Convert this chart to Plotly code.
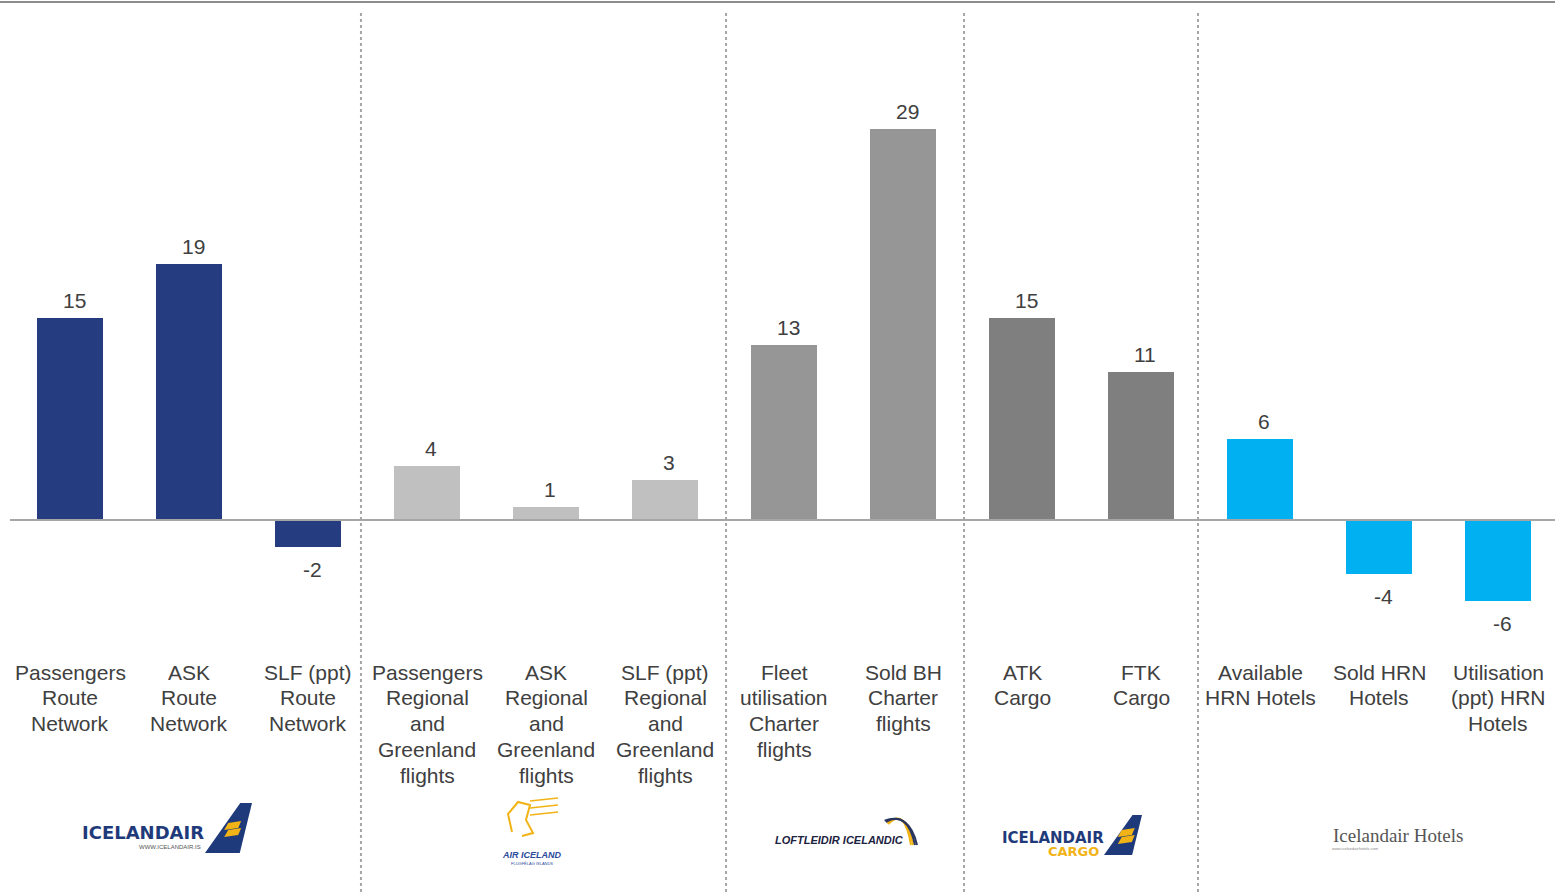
import plotly.graph_objects as go

# Traffic and capacity change by business unit (%, ppt where noted)
categories = [
    ["Passengers", "Route", "Network"], ["ASK", "Route", "Network"], ["SLF (ppt)", "Route", "Network"],
    ["Passengers", "Regional", "and", "Greenland", "flights"], ["ASK", "Regional", "and", "Greenland", "flights"],
    ["SLF (ppt)", "Regional", "and", "Greenland", "flights"],
    ["Fleet", "utilisation", "Charter", "flights"], ["Sold BH", "Charter", "flights"],
    ["ATK", "Cargo"], ["FTK", "Cargo"],
    ["Available", "HRN Hotels"], ["Sold HRN", "Hotels"], ["Utilisation", "(ppt) HRN", "Hotels"],
]
values = [15, 19, -2, 4, 1, 3, 13, 29, 15, 11, 6, -4, -6]
bar_colors = ["#253C80"] * 3 + ["#C0C0C0"] * 3 + ["#969696"] * 2 + ["#7F7F7F"] * 2 + ["#00B0F0"] * 3
separators = [2.445, 5.513, 7.513, 9.479]

W, H = 1555, 892
TXT = "#404040"
FONT = "Liberation Sans, Arial, sans-serif"
PX_PER_UNIT = 13.5
ZERO_PX = 520

x = list(range(len(values)))
fig = go.Figure(go.Bar(x=x, y=values, marker=dict(color=bar_colors, line=dict(width=0)),
                       width=0.555, hoverinfo="skip"))


def px_x(p):
    return p / W


def px_y(p):
    return (H - p) / H


def note(px, py, text, size, color, family=FONT):
    return dict(x=px_x(px), y=px_y(py), xref="paper", yref="paper", text=text, showarrow=False,
                xanchor="center", yanchor="middle", font=dict(size=size, color=color, family=family))


ann = []
# value labels
for i, v in enumerate(values):
    pos = v >= 0
    ann.append(dict(x=i, y=v, xref="x", yref="y", text=str(v), showarrow=False,
                    xanchor="center", yanchor="bottom" if pos else "top",
                    yshift=4 if pos else -9, xshift=4,
                    font=dict(size=21, color=TXT, family=FONT)))
# category labels, one line at a time
for i, lines in enumerate(categories):
    for k, line in enumerate(lines):
        ann.append(dict(x=i, y=px_y(672 + k * 25.75), xref="x", yref="paper", text=line,
                        showarrow=False, xanchor="center", yanchor="middle",
                        font=dict(size=21, color=TXT, family=FONT)))

shapes = []
# frame line along the top
shapes.append(dict(type="line", xref="paper", yref="paper", x0=0, x1=1, y0=px_y(2), y1=px_y(2),
                   line=dict(color="#8C8C8C", width=2)))
# zero baseline
shapes.append(dict(type="line", xref="paper", yref="y", x0=px_x(10), x1=1, y0=0, y1=0,
                   line=dict(color="#A6A6A6", width=2), layer="above"))
# dotted separators between business units
for sx in separators:
    shapes.append(dict(type="line", xref="x", yref="paper", x0=sx, x1=sx,
                       y0=0, y1=px_y(10), line=dict(color="#A6A6A6", width=2, dash="dot")))

# --- logos ---
NAVY = "#1F3A7A"
GOLD = "#F2B316"


def poly(pts):
    return "M " + " L ".join(f"{px_x(a):.5f},{px_y(b):.5f}" for a, b in pts) + " Z"


def add_tail(xl, yt, xr, yb):
    pts = [(xl, yb), (xl + (xr - xl) * 0.75, yt), (xr, yt), (xl + (xr - xl) * 0.74, yb)]
    shapes.append(dict(type="path", xref="paper", yref="paper", path=poly(pts),
                       fillcolor=NAVY, line=dict(width=0)))
    cx = xl + (xr - xl) * 0.6
    cy = (yt + yb) / 2 + 3
    for dy in (-6, 1):
        q = [(cx - 9, cy + dy + 5), (cx - 5, cy + dy - 2), (cx + 8, cy + dy - 4), (cx + 5, cy + dy + 3)]
        shapes.append(dict(type="path", xref="paper", yref="paper", path=poly(q),
                           fillcolor=GOLD, line=dict(width=0)))


# Icelandair
ann.append(note(143, 832, "<b>ICELANDAIR</b>", 18, NAVY, "DejaVu Sans, sans-serif"))
ann.append(note(170, 847, "WWW.ICELANDAIR.IS", 6, "#555555"))
add_tail(205, 803, 252, 853)

# Air Iceland
shapes.append(dict(type="path", xref="paper", yref="paper",
                   path="M " + " L ".join(f"{px_x(a):.5f},{px_y(b):.5f}" for a, b in
                                          [(512, 832), (508, 814), (518, 802), (530, 805), (526, 820),
                                           (533, 833), (522, 836)]),
                   line=dict(color=GOLD, width=2)))
for yy in (798, 805, 812):
    shapes.append(dict(type="line", xref="paper", yref="paper", x0=px_x(530), x1=px_x(558),
                       y0=px_y(yy + 3), y1=px_y(yy), line=dict(color=GOLD, width=1.5)))
ann.append(note(532, 855, "<b><i>AIR ICELAND</i></b>", 9, "#2B4C9B"))
ann.append(note(532, 863, "FLUGFÉLAG ÍSLANDS", 4, "#2B4C9B"))

# Loftleidir Icelandic
ann.append(note(839, 840, "<b><i>LOFTLEIDIR ICELANDIC</i></b>", 11, "#1C2340"))
for k, col in enumerate([GOLD, GOLD, "#2A3560", "#2A3560"]):
    r = 6 + k * 4
    shapes.append(dict(type="path", xref="paper", yref="paper",
                       path=f"M {px_x(890 - r * 0.3):.5f},{px_y(826 - r * 0.3):.5f} "
                            f"Q {px_x(902 + r * 0.4):.5f},{px_y(806 + k * 2):.5f} "
                            f"{px_x(908 + r * 0.5):.5f},{px_y(845):.5f}",
                       line=dict(color=col, width=2)))

# Icelandair Cargo
ann.append(note(1053, 838, "<b>ICELANDAIR</b>", 15, NAVY, "DejaVu Sans, sans-serif"))
ann.append(note(1073, 851, "<b>CARGO</b>", 13, GOLD, "DejaVu Sans, sans-serif"))
add_tail(1104, 815, 1142, 855)

# Icelandair Hotels
ann.append(note(1398, 835, "Icelandair Hotels", 19, "#555555", "Liberation Serif, serif"))
ann.append(note(1355, 848, "www.icelandairhotels.com", 4, "#888888"))

y_top = ZERO_PX / PX_PER_UNIT
y_bot = -(H - ZERO_PX) / PX_PER_UNIT
fig.update_layout(
    width=W, height=H, margin=dict(l=0, r=0, t=0, b=0),
    paper_bgcolor="white", plot_bgcolor="white",
    showlegend=False,
    xaxis=dict(range=[-70 / 119, (W - 70) / 119], visible=False, fixedrange=True),
    yaxis=dict(range=[y_bot, y_top], visible=False, fixedrange=True),
    annotations=ann, shapes=shapes, bargap=0,
)

fig.write_html("out.html", config={"displayModeBar": False})
